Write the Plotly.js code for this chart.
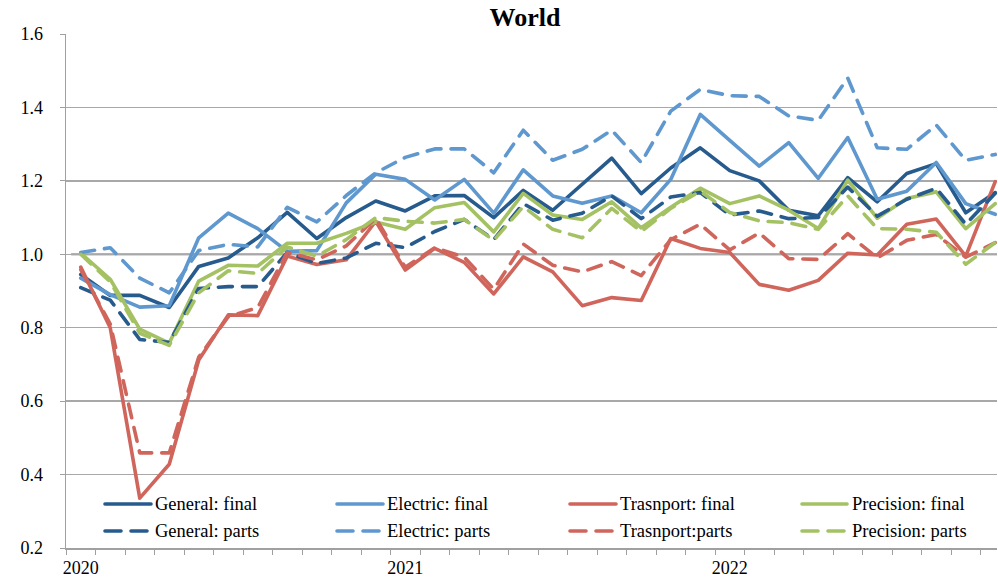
<!DOCTYPE html>
<html>
<head>
<meta charset="utf-8">
<script src="https://cdn.plot.ly/plotly-3.0.1.min.js"></script>
<style>
  html, body { margin: 0; padding: 0; background: #fff; }
  #chart { width: 998px; height: 577px; }
  .scatterlayer path.js-line, .shapelayer path { stroke-linecap: round; stroke-linejoin: round; }
</style>
</head>
<body>
<div id="chart"></div>
<script>
// ---- Data ----
const yearLabels = ['2020', '2021', '2022'];
const yearLabelIndex = [0, 11, 22];

const generalFinal = [0.945, 0.888, 0.888, 0.855, 0.967, 0.990, 1.045, 1.114, 1.043, 1.100, 1.145, 1.118,
  1.159, 1.160, 1.100, 1.174, 1.120, 1.190, 1.262, 1.165, 1.235, 1.290, 1.228, 1.200,
  1.120, 1.105, 1.209, 1.143, 1.220, 1.247, 1.113, 1.168];
const electricFinal = [0.935, 0.890, 0.856, 0.860, 1.045, 1.112, 1.070, 1.008, 1.010, 1.140, 1.218, 1.204,
  1.148, 1.204, 1.112, 1.230, 1.159, 1.139, 1.159, 1.113, 1.204, 1.381, 1.310, 1.240,
  1.304, 1.207, 1.318, 1.150, 1.172, 1.250, 1.138, 1.109];
const transportFinal = [0.965, 0.800, 0.336, 0.428, 0.712, 0.835, 0.833, 0.995, 0.972, 0.985, 1.090, 0.957,
  1.016, 0.978, 0.892, 0.993, 0.952, 0.860, 0.882, 0.874, 1.043, 1.016, 1.005, 0.918,
  0.902, 0.929, 1.003, 0.998, 1.082, 1.096, 0.995, 1.198];
const precisionFinal = [1.003, 0.932, 0.796, 0.758, 0.927, 0.970, 0.968, 1.030, 1.030, 1.057, 1.088, 1.068,
  1.127, 1.141, 1.061, 1.166, 1.107, 1.095, 1.143, 1.072, 1.128, 1.180, 1.138, 1.159,
  1.120, 1.070, 1.202, 1.098, 1.152, 1.170, 1.070, 1.138];
const generalParts = [0.909, 0.875, 0.768, 0.760, 0.907, 0.912, 0.912, 1.005, 0.975, 0.990, 1.030, 1.018,
  1.062, 1.095, 1.040, 1.138, 1.093, 1.112, 1.159, 1.097, 1.156, 1.168, 1.107, 1.118,
  1.097, 1.100, 1.183, 1.104, 1.150, 1.180, 1.082, 1.166];
const electricParts = [1.005, 1.018, 0.935, 0.895, 1.010, 1.027, 1.020, 1.128, 1.088, 1.160, 1.222, 1.264,
  1.287, 1.287, 1.222, 1.338, 1.256, 1.286, 1.338, 1.250, 1.390, 1.449, 1.432, 1.430,
  1.377, 1.365, 1.480, 1.290, 1.286, 1.352, 1.256, 1.272];
const transportParts = [0.958, 0.810, 0.459, 0.459, 0.720, 0.830, 0.855, 1.005, 0.985, 1.023, 1.098, 0.965,
  1.018, 0.992, 0.905, 1.028, 0.970, 0.952, 0.980, 0.942, 1.040, 1.082, 1.012, 1.058,
  0.988, 0.986, 1.056, 0.990, 1.038, 1.054, 0.992, 1.032];
const precisionParts = [1.000, 0.925, 0.785, 0.752, 0.895, 0.955, 0.948, 1.020, 0.995, 1.040, 1.100, 1.090,
  1.085, 1.095, 1.038, 1.130, 1.068, 1.045, 1.125, 1.062, 1.125, 1.172, 1.114, 1.091,
  1.086, 1.068, 1.159, 1.070, 1.068, 1.060, 0.973, 1.032];
const referenceLevel = 1.0;

const seriesNames = ['General: final', 'Electric: final', 'Trasnport: final', 'Precision: final',
                     'General: parts', 'Electric: parts', 'Trasnport:parts', 'Precision: parts'];
const seriesValues = [generalFinal, electricFinal, transportFinal, precisionFinal,
                      generalParts, electricParts, transportParts, precisionParts];

// ---- Styling ----
const C_GEN = '#275b8d', C_ELE = '#5e98cf', C_TRA = '#d0655b', C_PRE = '#a4c263';
const colors = [C_GEN, C_ELE, C_TRA, C_PRE, C_GEN, C_ELE, C_TRA, C_PRE];
const DASH = '14px,10px';
const dashes = ['solid', 'solid', 'solid', 'solid', DASH, DASH, DASH, DASH];
const LW = 3.6;
const FONT = 'Liberation Serif, Times New Roman, serif';

const W = 998, H = 577;
const M = {l: 66, r: 1, t: 34, b: 29};
const plotW = W - M.l - M.r, plotH = H - M.t - M.b;
const catW = 29.5;
const xMax = -0.5 + plotW / catW;

const xIdx = generalFinal.map((_, i) => i);

const traces = seriesValues.map((vals, k) => ({
  type: 'scatter', mode: 'lines', x: xIdx, y: vals, name: seriesNames[k],
  line: {color: colors[k], width: LW, dash: dashes[k]},
  showlegend: false, hoverinfo: 'skip'
}));

// custom legend (shapes + text) positioned in pixels
const px2x = px => (px - M.l) / plotW;
const py2y = py => (H - M.b - py) / plotH;
const legendCols = [{s: 105, e: 151, t: 153}, {s: 337, e: 383, t: 385}, {s: 570, e: 616, t: 618}, {s: 802, e: 847, t: 850}];
const legendRows = [504, 531];

const shapes = [{
  type: 'line', xref: 'x', yref: 'y', x0: -0.3, x1: xMax + 1, y0: referenceLevel, y1: referenceLevel,
  line: {color: '#f7a34e', width: 2.5}, layer: 'below'
}];
const annotations = [];
seriesNames.forEach((nm, k) => {
  const col = legendCols[k % 4], row = legendRows[Math.floor(k / 4)];
  shapes.push({
    type: 'line', xref: 'paper', yref: 'paper',
    x0: px2x(col.s), x1: px2x(col.e), y0: py2y(row), y1: py2y(row),
    line: {color: colors[k], width: LW, dash: k < 4 ? 'solid' : '16px,10px'}
  });
  annotations.push({
    xref: 'paper', yref: 'paper', x: px2x(col.t), y: py2y(row),
    xanchor: 'left', yanchor: 'middle', showarrow: false, text: nm,
    font: {family: FONT, size: 18.5, color: '#000'}
  });
});

const layout = {
  width: W, height: H, margin: M,
  paper_bgcolor: '#fff', plot_bgcolor: '#fff',
  title: {text: '<b>World</b>', font: {family: FONT, size: 26, color: '#000'},
          xref: 'container', yref: 'container', x: 525 / W, xanchor: 'center', y: 1 - 17 / H, yanchor: 'middle'},
  showlegend: false,
  xaxis: {
    range: [-0.5, xMax], tickmode: 'array', tickvals: yearLabelIndex, ticktext: yearLabels,
    ticks: '', showgrid: false, zeroline: false,
    showline: true, linecolor: '#a0a0a0', linewidth: 1.5,
    tickfont: {family: FONT, size: 18, color: '#000'}, ticklabelstandoff: 3,
    minor: {tickmode: 'linear', tick0: -0.5, dtick: 1, ticks: 'outside', ticklen: 5, tickcolor: '#a0a0a0', tickwidth: 1, showgrid: false},
    fixedrange: true
  },
  yaxis: {
    range: [0.2, 1.6], tickmode: 'linear', tick0: 0.2, dtick: 0.2, tickformat: '.1f',
    showgrid: true, gridcolor: '#a8a8a8', gridwidth: 1.5, zeroline: false,
    showline: true, linecolor: '#a0a0a0', linewidth: 1.5,
    ticks: 'outside', ticklen: 5, tickcolor: '#a0a0a0',
    tickfont: {family: FONT, size: 18, color: '#000'}, ticklabelstandoff: 13,
    fixedrange: true
  },
  shapes: shapes,
  annotations: annotations
};

Plotly.newPlot('chart', traces, layout, {staticPlot: true, displayModeBar: false});
</script>
</body>
</html>
